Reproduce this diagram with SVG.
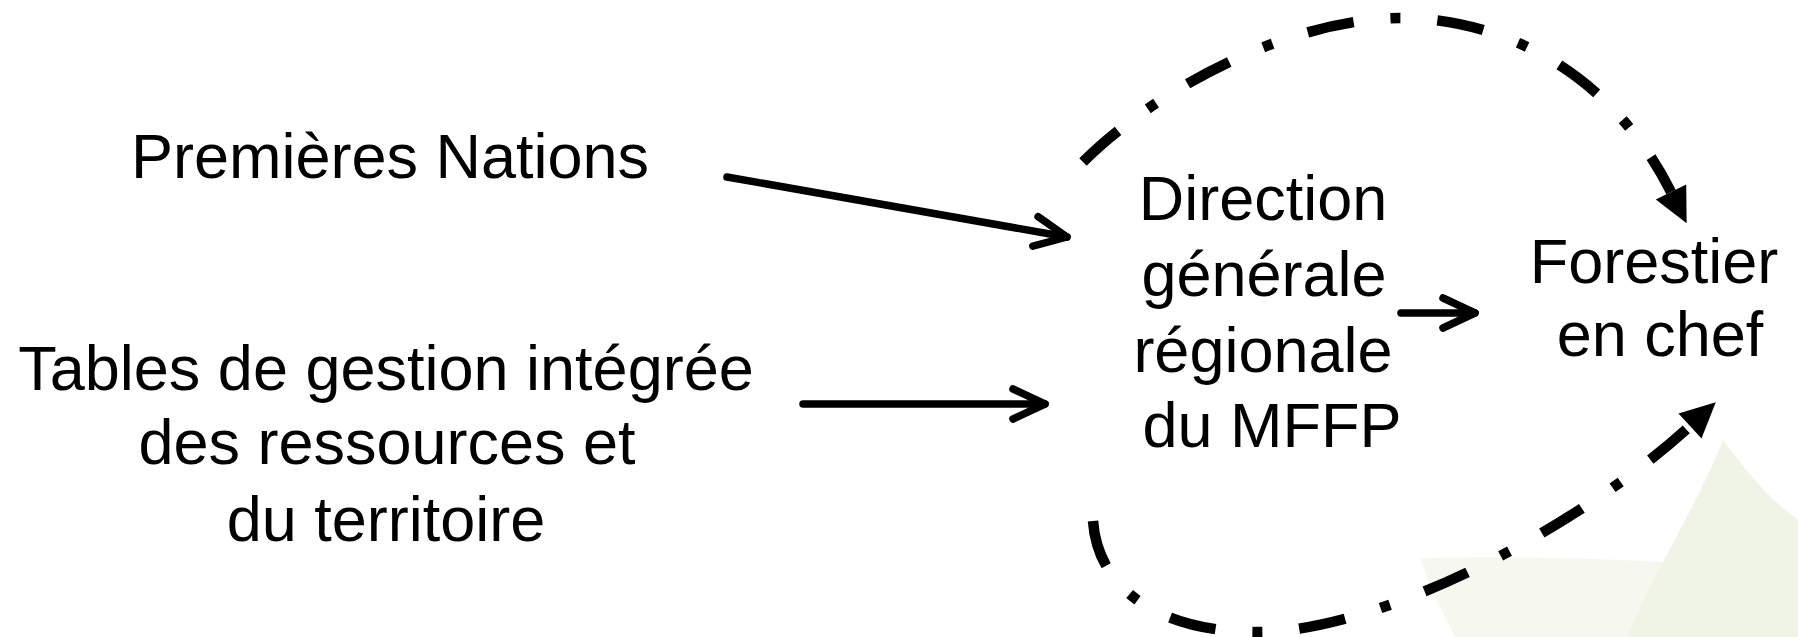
<svg xmlns="http://www.w3.org/2000/svg" width="1798" height="637" viewBox="0 0 1798 637">
  <style>
    .lbl { font-family: "Liberation Sans", Arial, sans-serif; font-size: 63px; fill: #000; text-anchor: middle; }
    .solid { fill: none; stroke: #000; stroke-width: 7.5; stroke-linecap: round; stroke-linejoin: round; }
    .dashdot { fill: none; stroke: #000; stroke-width: 10.5; stroke-linecap: butt; stroke-dasharray: 47 37 10 37; }
  </style>
  <defs>
    <marker id="chev" markerUnits="userSpaceOnUse" viewBox="-40 -25 50 50" refX="0" refY="0" markerWidth="50" markerHeight="50" orient="auto" overflow="visible">
      <path d="M-32,-15 L0,0 L-32,15" fill="none" stroke="#000" stroke-width="7.5" stroke-linecap="round" stroke-linejoin="round"/>
    </marker>
    <marker id="tri" markerUnits="userSpaceOnUse" viewBox="-5 -20 45 40" refX="0" refY="0" markerWidth="45" markerHeight="40" orient="auto" overflow="visible">
      <path d="M0,-17 L35,0 L0,17 z" fill="#000"/>
    </marker>
  </defs>
  <rect width="1798" height="637" fill="#ffffff"/>
  <g id="watermark">
    <path d="M1420,558 C1500,556 1590,558 1665,562 C1650,590 1635,615 1627,637 L1455,637 C1440,610 1430,585 1420,558 z" fill="#f6f8f0"/>
    <path d="M1723,440 C1745,470 1770,500 1798,520 L1798,637 L1627,637 C1650,580 1700,500 1723,440 z" fill="#f0f4e6"/>
  </g>
  <g id="connectors">
    <line class="solid" x1="727" y1="177" x2="1067" y2="237" marker-end="url(#chev)"/>
    <line class="solid" x1="803" y1="404" x2="1045" y2="404" marker-end="url(#chev)"/>
    <line class="solid" x1="1401" y1="313" x2="1475" y2="313" marker-end="url(#chev)"/>
    <path class="dashdot" d="M1083,162 C1150,95 1280,20 1400,18 C1500,18 1610,70 1671,192" marker-end="url(#tri)"/>
    <path class="dashdot" d="M1093,521 C1098,590 1160,632 1258,632 C1380,632 1579,528 1690,426" marker-end="url(#tri)"/>
  </g>
  <g id="node-premieres">
    <text class="lbl" x="390" y="178">Premières Nations</text>
  </g>
  <g id="node-tables">
    <text class="lbl" x="386" y="390">Tables de gestion intégrée</text>
    <text class="lbl" x="387" y="464">des ressources et</text>
    <text class="lbl" x="386" y="541">du territoire</text>
  </g>
  <g id="node-direction">
    <text class="lbl" x="1263" y="220">Direction</text>
    <text class="lbl" x="1264" y="296">générale</text>
    <text class="lbl" x="1263" y="372">régionale</text>
    <text class="lbl" x="1272" y="447">du MFFP</text>
  </g>
  <g id="node-forestier">
    <text class="lbl" x="1654" y="283">Forestier</text>
    <text class="lbl" x="1660" y="356">en chef</text>
  </g>
</svg>
